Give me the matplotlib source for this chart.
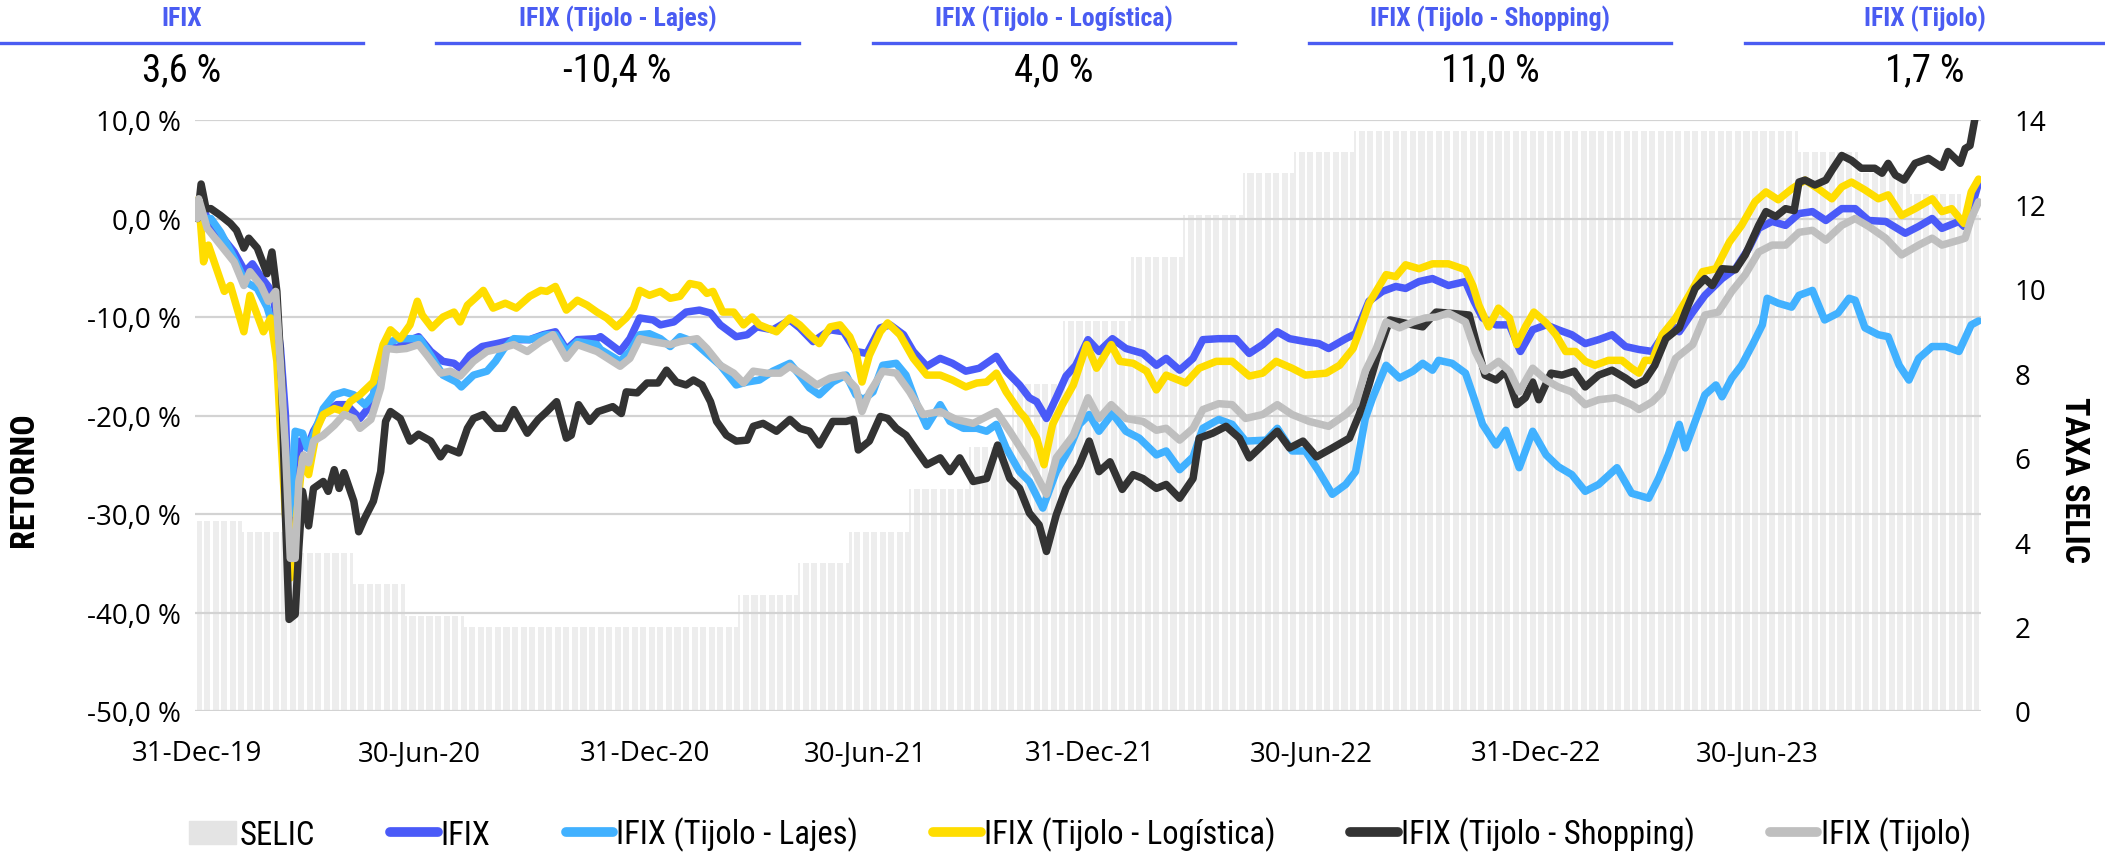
import numpy as np
import pandas as pd
import matplotlib
matplotlib.use('Agg')
import matplotlib.pyplot as plt
import matplotlib.dates as mdates
from matplotlib import font_manager
from matplotlib.ticker import FuncFormatter, MultipleLocator
from matplotlib.patches import Patch
from matplotlib.lines import Line2D

START = pd.Timestamp('2019-12-31')
END = pd.Timestamp('2023-12-28')

# SELIC target rate (date the new rate applies, % a.a.)
selic_dates = ['2019-12-31', '2020-02-06', '2020-03-19', '2020-05-07', '2020-06-18', '2020-08-06',
               '2021-03-18', '2021-05-06', '2021-06-17', '2021-08-05', '2021-09-23', '2021-10-28',
               '2021-12-09', '2022-02-03', '2022-03-17', '2022-05-05', '2022-06-16', '2022-08-04',
               '2023-08-03', '2023-09-21', '2023-11-02', '2023-12-14']
selic_rates = [4.5, 4.25, 3.75, 3.0, 2.25, 2.0, 2.75, 3.5, 4.25, 5.25, 6.25, 7.75,
               9.25, 10.75, 11.75, 12.75, 13.25, 13.75, 13.25, 12.75, 12.25, 11.75]

# accumulated return (%), x = days since 31-Dec-19
ifix_days = [0, 3, 8, 19, 30, 39, 45, 53, 58, 62, 68, 72, 75, 77, 80, 84, 90, 95, 103, 114, 122, 133, 142,
             150, 155, 163, 171, 181, 191, 201, 210, 215, 223, 233, 245, 259, 272, 283, 293, 302, 311, 327,
             330, 346, 354, 362, 373, 379, 390, 400, 411, 420, 428, 441, 450, 458, 471, 485, 493, 504, 518,
             529, 539, 548, 559, 567, 578, 586, 597, 608, 618, 629, 640, 654, 662, 673, 681,
             687, 695, 703, 711, 719, 729, 738, 749, 760, 774, 785, 793, 804, 815, 823, 836, 850, 861, 872,
             884, 894, 907, 918, 926, 940, 948, 959, 970, 981, 989, 1000, 1011, 1024,
             1038, 1045, 1052, 1063, 1074, 1083, 1093, 1104, 1114, 1125, 1136, 1147, 1158, 1169, 1180,
             1191, 1199, 1210, 1213, 1224, 1234, 1248, 1259, 1270, 1278, 1289, 1300, 1311, 1322, 1333,
             1346, 1357, 1368, 1382, 1398, 1409, 1420, 1428, 1442, 1446, 1452, 1458]
ifix_vals = [0, 1.7, 0, -1.7, -3.4, -5.4, -4.6, -6.1, -6.9, -7.8, -13.2, -19.9, -30, -34.5, -30, -22.6, -23.3,
             -21.6, -19.9, -18.9, -18.9, -20.3, -18.9, -14.9, -12.8, -13.2, -12.5, -12, -13.5, -14.5, -14.7,
             -15.2, -13.9, -13, -12.7, -12.3, -12.3, -11.8, -11.5, -13.3, -12.3, -12.2,
             -12, -13.5, -12.2, -10.1, -10.3, -10.8, -10.5, -9.5, -9.3, -9.6, -10.8, -12, -11.8, -11, -11.3,
             -10.3, -11.1, -12.5, -11.3, -11.5, -13.5, -13.7, -11.1, -10.8, -11.8, -13.5, -15, -14.2, -14.7,
             -15.5, -15.2, -14, -15.5, -16.9, -18.2,
             -18.6, -20.3, -18.2, -16, -14.9, -12.3, -13.5, -12.2, -13.2, -13.7, -14.9, -14.2, -15.4, -14.2,
             -12.3, -12.2, -12.2, -13.7, -12.8, -11.5, -12.2, -12.5, -12.7, -13.2, -12.2, -11.7, -8.4, -7.4,
             -6.9, -7.1, -6.4, -6.1, -6.8,
             -6.4, -8.4, -10.1, -10.8, -10.8, -13.5, -11.3, -10.8, -11.3, -11.8, -12.7, -12.3, -11.8, -13,
             -13.3, -13.5, -12, -11.1, -11.5, -9.5, -7.8, -6.1, -5.1, -3, -1, -0.3, -0.7, 0.5, 0.7, -0.2,
             1, 1, -0.2, -0.3, -1.5, -0.8, 0, -1, -0.3, -0.8, 1, 3.6]

lajes_days = [0, 11, 19, 30, 39, 49, 57, 65, 72, 76, 80, 86, 90, 95, 103, 112, 120, 128, 137, 144, 151, 158,
              166, 174, 182, 191, 201, 212, 216, 226, 237, 244, 251, 259, 272, 286, 293, 302, 311, 327,
              330, 346, 354, 362, 370, 379, 387, 395, 406, 417, 428, 441, 450, 460, 471, 485, 493, 501, 509,
              520, 531, 539, 545, 553, 561, 572, 580, 589, 597, 608, 616, 627, 638, 646, 654, 662, 673, 681,
              692, 703, 714, 722, 730, 738, 749, 760, 771, 785, 793, 804, 815, 823, 836, 847, 858, 875, 884,
              896, 907, 918, 929, 940, 948, 956, 962, 973, 984, 995, 1003, 1011, 1016, 1027,
              1038, 1046, 1052, 1063, 1071, 1082, 1093, 1104, 1114, 1125, 1136, 1147, 1162, 1174, 1188,
              1196, 1204, 1213, 1218, 1226, 1234, 1243, 1248, 1256, 1264, 1273, 1281, 1285, 1294, 1305,
              1311, 1322, 1332, 1343, 1352, 1357, 1365, 1376, 1384, 1393, 1401, 1409, 1420, 1431, 1442,
              1452, 1458]
lajes_vals = [0, 0, -1.4, -4, -6.4, -7.1, -9, -12.2, -23.3, -30, -21.6, -21.8, -23.3, -22, -19.3, -17.9, -17.6,
              -17.9, -18.9, -17.9, -13.9, -12.5, -12.2, -12.2, -12.2, -13.9, -15.9, -16.6, -17.1, -15.9,
              -15.5, -14.5, -13.2, -12.2, -12.3, -11.8, -11.8, -13.5, -12.5, -12.8,
              -13.3, -14.5, -13.5, -11.8, -11.7, -12.2, -13, -12, -12.5, -13.7, -14.9, -16.9, -16.6, -16.4,
              -15.5, -14.7, -15.9, -17.2, -17.9, -16.6, -15.9, -17.9, -18.4, -17.6, -14.9, -14.7, -15.9,
              -18.9, -21.1, -18.9, -20.6, -21.3, -21.3, -21.6, -20.9, -23.3, -25.7, -26.7,
              -29.4, -25.7, -23.3, -20.9, -19.9, -21.6, -19.8, -21.6, -22.3, -24, -23.6, -25.5, -24.2, -21.3,
              -20.4, -20.9, -22.6, -22.5, -21.3, -23.6, -23.6, -25.7, -28, -27, -25.7, -20.3, -18.2, -14.9,
              -16.2, -15.5, -14.7, -15.4, -14.4, -14.7,
              -15.7, -18.6, -20.9, -23, -21.5, -25.3, -21.6, -24, -25.2, -26, -27.7, -27, -25.3, -27.9, -28.4,
              -26.4, -24, -20.9, -23.3, -20.6, -17.9, -16.9, -18.1, -16.2, -14.9, -12.8, -10.8, -8.1, -8.6,
              -9, -7.8, -7.3, -10.3, -9.6, -8.1, -8.3, -11.1, -11.8, -12, -14.9, -16.4, -14.2, -13, -13,
              -13.5, -10.8, -10.4]

logistica_days = [0, 1, 5, 9, 22, 27, 38, 43, 54, 60, 65, 68, 72, 76, 86, 91, 98, 103, 112, 120, 125, 133,
                  144, 152, 158, 166, 174, 180, 184, 192, 201, 210, 215, 221, 229, 234, 242, 252, 261, 272,
                  281, 286, 293, 302, 311, 319, 327,
                  335, 343, 351, 357, 362, 370, 379, 387, 395, 403, 411, 417, 422, 430, 439, 447, 454, 460,
                  474, 485, 493, 501, 509, 518, 526, 534, 539, 544, 550, 559, 565, 575, 586, 597, 608, 618,
                  629, 638, 646, 654, 662, 673,
                  678, 687, 693, 700, 708, 717, 728, 736, 748, 755, 766, 777, 785, 793, 809, 820, 834, 847,
                  861, 872, 883, 896, 907, 924, 935, 946, 953, 959, 973, 981, 989, 1000, 1011, 1024,
                  1038, 1044, 1049, 1057, 1065, 1074, 1080, 1087, 1094, 1104, 1112, 1120, 1128, 1136, 1144,
                  1155, 1166, 1174, 1180, 1185, 1191, 1199, 1210, 1221, 1232, 1243, 1254, 1264, 1275, 1284,
                  1294, 1305, 1316, 1327, 1338, 1346, 1354, 1365, 1376, 1384, 1395, 1406, 1420, 1428, 1436,
                  1446, 1452, 1458]
logistica_vals = [0, 2, -4.4, -2.7, -7.4, -6.8, -11.5, -7.8, -11.5, -10.1, -14.5, -21.6, -30, -36.5, -24.3,
                  -26, -21.3, -19.9, -19.3, -19.6, -18.6, -17.9, -16.6, -12.8, -11.3, -12.2, -10.8, -8.4,
                  -9.8, -11.1, -10, -9.5, -10.5, -8.8, -7.9, -7.3, -9.1, -8.6, -9.1, -7.9, -7.3, -7.4, -6.9,
                  -9.3, -8.3, -8.8, -9.5,
                  -10.1, -11, -10.1, -9.1, -7.3, -7.8, -7.4, -8.1, -7.9, -6.6, -6.8, -7.6, -7.4, -9.5, -9.5,
                  -10.8, -10, -10.8, -11.5, -10.1, -10.8, -11.8, -12.7, -11, -10.8, -12, -13.5, -16.6, -13.9,
                  -11.5, -10.6, -11.8, -14.2, -15.9, -15.9, -16.4, -17.1, -16.7, -16.6, -15.7, -17.6, -19.6,
                  -20.3, -22.3, -25, -20.9, -18.9, -16.9, -12.8, -15.2, -12.8, -14.5, -14.7, -15.5, -17.4,
                  -15.9, -16.7, -15.2, -14.5, -14.5, -16, -15.7, -14.5, -15.2, -15.9, -15.7, -14.9, -13.2,
                  -10.8, -8.6, -5.7, -5.9, -4.7, -5.1, -4.6, -4.6,
                  -5.2, -6.8, -8.8, -11, -9.1, -10.1, -12.8, -11, -9.5, -10.6, -11.8, -13.5, -13.5, -14.5,
                  -14.9, -14.4, -14.4, -15.2, -15.7, -14.4, -14.4, -11.8, -10.1, -7.8, -5.4, -5.1, -2.4, -0.7,
                  1.7, 2.7, 1.9, 3, 3.9, 3, 2, 3.2, 3.7, 2.9, 2, 2.4, 0.3, 1, 2, 0.7, 1, -0.5, 2.7, 4.0]

shopping_days = [0, 3, 7, 11, 19, 27, 32, 38, 42, 49, 57, 61, 65, 69, 72, 75, 80, 83, 86, 91, 95, 103, 107,
                 112, 116, 120, 128, 132, 137, 144, 150, 154, 158, 166, 174, 181, 191, 199, 204, 214, 221,
                 226, 234, 244, 251, 259, 270, 279, 286, 294, 302, 306, 312, 321, 328,
                 340, 347, 351, 360, 368, 377, 384, 392, 400, 406, 413, 420, 425, 433, 441, 450, 455, 463,
                 474, 485, 493, 501, 509, 520, 531, 537, 541, 550, 559, 565, 572, 580, 589, 597, 608, 616,
                 624, 635, 646, 655, 665, 673, 681,
                 689, 695, 703, 711, 722, 730, 738, 747, 757, 766, 774, 785, 793, 804, 815, 820, 831, 842,
                 853, 861, 872, 884, 894, 905, 916, 929, 943, 951, 959, 967, 976, 984, 995, 1003, 1014, 1024,
                 1041, 1046, 1054, 1063, 1071, 1080, 1087, 1093, 1098, 1108, 1117, 1127, 1136, 1147, 1158,
                 1169, 1177, 1185, 1193, 1202, 1213, 1218, 1226, 1234, 1240, 1248, 1259, 1267, 1278, 1284,
                 1292, 1300, 1307, 1311, 1316, 1324, 1333, 1338, 1346, 1354, 1362, 1373, 1379, 1384, 1390,
                 1397, 1406, 1417, 1428, 1433, 1443, 1447, 1451, 1455, 1458]
shopping_vals = [0, 3.5, 1, 1, 0.3, -0.5, -1.2, -3, -2, -3, -5.6, -3.4, -7.4, -16.5, -30, -40.7, -40.2, -33.4,
                 -27.7, -31.2, -27.4, -26.7, -27.7, -25.5, -27.4, -25.8, -28.7, -31.8, -30.4, -28.7, -25.7,
                 -20.6, -19.6, -20.3, -22.6, -21.9, -22.6, -24.2, -23.3, -23.8, -21.3, -20.3, -19.9, -21.3,
                 -21.3, -19.4, -21.8, -20.4, -19.6, -18.6, -22.3, -22, -18.9, -20.6, -19.6,
                 -19.1, -19.8, -17.6, -17.7, -16.7, -16.7, -15.4, -16.6, -16.9, -16.4, -16.9, -18.6, -20.6,
                 -22, -22.6, -22.5, -21.1, -20.8, -21.6, -20.4, -21.3, -21.6, -23, -20.6, -20.6, -20.4, -23.5,
                 -22.6, -20.1, -20.3, -21.3, -22, -23.6, -25, -24.3, -25.7, -24.3, -26.7, -26.4, -23, -26.4,
                 -27.4, -29.9,
                 -31.1, -33.8, -30.1, -27.4, -25, -22.6, -25.7, -24.7, -27.5, -26, -26.4, -27.4, -27, -28.4,
                 -26.4, -22.3, -21.8, -21.1, -22.3, -24.3, -23, -21.6, -23.3, -22.6, -24.2, -23.3, -22.3,
                 -19.9, -16.9, -13.5, -10.3, -10.5, -10.8, -11, -9.5, -9.6,
                 -9.8, -12.2, -15.9, -16.4, -15.5, -18.9, -18.2, -16.6, -18.4, -15.7, -15.9, -15.5, -17.1,
                 -15.9, -15.4, -16.2, -16.9, -16.4, -14.9, -12.2, -11.1, -9.5, -7.1, -6.1, -6.8, -5.1, -5.2,
                 -3.7, -0.7, 0.7, 0.2, 1, 0.8, 3.7, 3.9, 3.4, 3.9, 4.9, 6.4, 5.9, 5.1, 5.1, 4.6, 5.6, 4.4,
                 3.9, 5.6, 6.1, 5.2, 6.8, 5.6, 7.1, 7.4, 10.1, 11.0]

tijolo_days = [0, 1, 8, 19, 30, 38, 43, 52, 58, 64, 68, 72, 76, 80, 83, 87, 91, 95, 103, 112, 120, 128, 133,
               142, 150, 155, 163, 171, 181, 188, 199, 207, 215, 226, 237, 248, 259, 270, 281, 291, 302, 311,
               327, 346, 354, 362, 373, 387, 395, 409, 417, 428, 439, 447, 455, 466, 477, 485, 496, 507, 518,
               529, 539, 544, 550, 561, 572, 583, 594, 608, 621, 635, 654, 665, 681,
               695, 703, 717, 729, 738, 748, 760, 774, 785, 793, 804, 815, 823, 836, 847, 858, 872, 884, 896,
               910, 926, 940, 948, 956, 965, 973, 984, 995, 1005, 1014, 1024,
               1038, 1046, 1054, 1065, 1074, 1082, 1093, 1104, 1114, 1125, 1136, 1147, 1161, 1174, 1180,
               1191, 1199, 1210, 1224, 1234, 1245, 1256, 1267, 1278, 1289, 1300, 1311, 1322, 1333, 1346,
               1357, 1368, 1382, 1395, 1409, 1420, 1428, 1442, 1447, 1452, 1458]
tijolo_vals = [0, 2, -1, -2.7, -4.4, -6.8, -5.4, -6.8, -8.4, -7.4, -14.9, -23.3, -34.5, -34.5, -26.7, -24,
               -24.8, -22.6, -22, -21, -19.9, -20.3, -21.3, -20.4, -17.2, -13.2, -13.3, -13.2, -12.8, -13.9,
               -15.7, -15.5, -16, -14.5, -13.5, -13.2, -12.8, -13.5, -12.5, -11.8, -14.2, -12.8,
               -13.5, -15, -14.2, -12.2, -12.5, -12.8, -12.5, -12.2, -13.2, -14.9, -15.7, -16.7, -15.5, -15.7,
               -15.7, -15, -15.9, -16.9, -16.2, -15.9, -17.2, -19.6, -17.7, -15.5, -15.7, -17.6, -19.9,
               -19.6, -20.4, -20.8, -19.6, -21.6, -24.7,
               -28, -24.3, -22, -18.2, -20.3, -18.9, -20.3, -20.6, -21.5, -21.3, -22.5, -21.3, -19.4, -18.8,
               -18.9, -20.3, -19.9, -18.9, -19.9, -20.6, -21.1, -19.9, -18.9, -15.5, -13.2, -10.5, -11.1,
               -10.5, -10.1, -10, -9.6,
               -10.5, -13.5, -15.5, -14.5, -15.5, -17.6, -15.2, -16.4, -17.1, -17.6, -18.9, -18.4, -18.2,
               -18.9, -19.4, -18.6, -17.6, -14.2, -12.8, -9.8, -9.5, -7.4, -5.7, -3.4, -2.7, -2.7, -1.4,
               -1.2, -2.2, -0.7, 0, -0.8, -2, -3.7, -2.7, -2, -2.7, -2.2, -2, 0, 1.7]

series = [
    ('IFIX', ifix_days, ifix_vals, '#4A5AF8'),
    ('IFIX (Tijolo - Lajes)', lajes_days, lajes_vals, '#41B1FF'),
    ('IFIX (Tijolo - Logística)', logistica_days, logistica_vals, '#FFDD00'),
    ('IFIX (Tijolo - Shopping)', shopping_days, shopping_vals, '#333333'),
    ('IFIX (Tijolo)', tijolo_days, tijolo_vals, '#BFBFBF'),
]

avail = {f.name for f in font_manager.fontManager.ttflist}
NARROW = 'DejaVu Sans'
for name in ['Liberation Sans Narrow', 'Roboto Condensed', 'Open Sans Condensed', 'Liberation Sans']:
    if name in avail:
        NARROW = name
        break
k = 1.0 if NARROW != 'Liberation Sans' else 0.82
plt.rcParams['font.family'] = ['Open Sans', 'DejaVu Sans']
narrow = [NARROW, 'DejaVu Sans']

W, H = 2105, 854
fig = plt.figure(figsize=(W / 100, H / 100), dpi=100)
ax = fig.add_axes([195 / W, 1 - 712 / H, (1981 - 195) / W, (712 - 121) / H])
ax2 = ax.twinx()

# SELIC bars (one per business day)
sel = pd.Series(selic_rates, index=pd.to_datetime(selic_dates))
bdays = pd.bdate_range(START, END)
sel_daily = sel.reindex(sel.index.union(bdays)).ffill().reindex(bdays)
ax2.bar(sel_daily.index, sel_daily.values, width=1.0, color='#EDEDED', linewidth=0, zorder=1)
ax2.set_ylim(0, 14)
ax2.yaxis.set_major_locator(MultipleLocator(2))

for name, days, vals, col in series:
    dates = START + pd.to_timedelta(days, unit='D')
    ax.plot(dates, vals, color=col, lw=5.4, solid_joinstyle='round', solid_capstyle='round',
            label=name, zorder=3)

ax.set_zorder(ax2.get_zorder() + 1)
ax.patch.set_visible(False)
ax.set_ylim(-50, 10)
ax.yaxis.set_major_locator(MultipleLocator(10))
ax.yaxis.set_major_formatter(FuncFormatter(lambda v, p: f'{v:.1f} %'.replace('.', ',')))
ax.grid(axis='y', color='#D3D3D3', lw=1.6)
ax.set_axisbelow(True)
ax.set_xlim(pd.Timestamp('2019-12-29'), pd.Timestamp('2023-12-30'))
ticks = pd.to_datetime(['2019-12-31', '2020-06-30', '2020-12-31', '2021-06-30',
                        '2021-12-31', '2022-06-30', '2022-12-31', '2023-06-30'])
ax.set_xticks(ticks)
ax.xaxis.set_major_formatter(mdates.DateFormatter('%d-%b-%y'))

for a in (ax, ax2):
    for s in a.spines.values():
        s.set_visible(False)
    a.tick_params(length=0)
ax.tick_params(axis='x', labelsize=20, pad=20)
ax.tick_params(axis='y', labelsize=20, pad=10)
ax2.tick_params(axis='y', labelsize=20, pad=24)

fig.text(24 / W, 0.438, 'RETORNO', rotation=90, ha='center', va='center',
         fontsize=24.5 * k, fontweight='bold', family=narrow)
fig.text(2074 / W, 0.438, 'TAXA SELIC', rotation=270, ha='center', va='center',
         fontsize=24.5 * k, fontweight='bold', family=narrow)

# header with final returns
HEAD = '#4A5CF2'
segs = [(0, 363), (436, 799), (873, 1235), (1309, 1671), (1745, 2105)]
for (x0, x1), (name, days, vals, col) in zip(segs, series):
    xc = (x0 + x1) / 2 / W
    fig.text(xc, 1 - 19 / H, name, ha='center', va='center', color=HEAD,
             fontsize=18.5 * k, fontweight='bold', family=narrow)
    fig.add_artist(Line2D([x0 / W, x1 / W], [1 - 44 / H] * 2, transform=fig.transFigure,
                          color=HEAD, lw=2.4))
    fig.text(xc, 1 - 71 / H, f'{vals[-1]:.1f} %'.replace('.', ','), ha='center', va='center',
             fontsize=28 * k, family=narrow)

handles = [Patch(color='#E4E4E4', label='SELIC')]
handles += [Line2D([], [], color=col, lw=7, solid_capstyle='round', label=name)
            for name, d, v, col in series]
fig.legend(handles=handles, loc='center', bbox_to_anchor=(0.513, 1 - 835 / H), ncol=6,
           frameon=False, prop={'family': narrow, 'size': 23.5 * k}, handlelength=1.45,
           handletextpad=0.1, columnspacing=2.3)

fig.savefig('out.png', dpi=100)
